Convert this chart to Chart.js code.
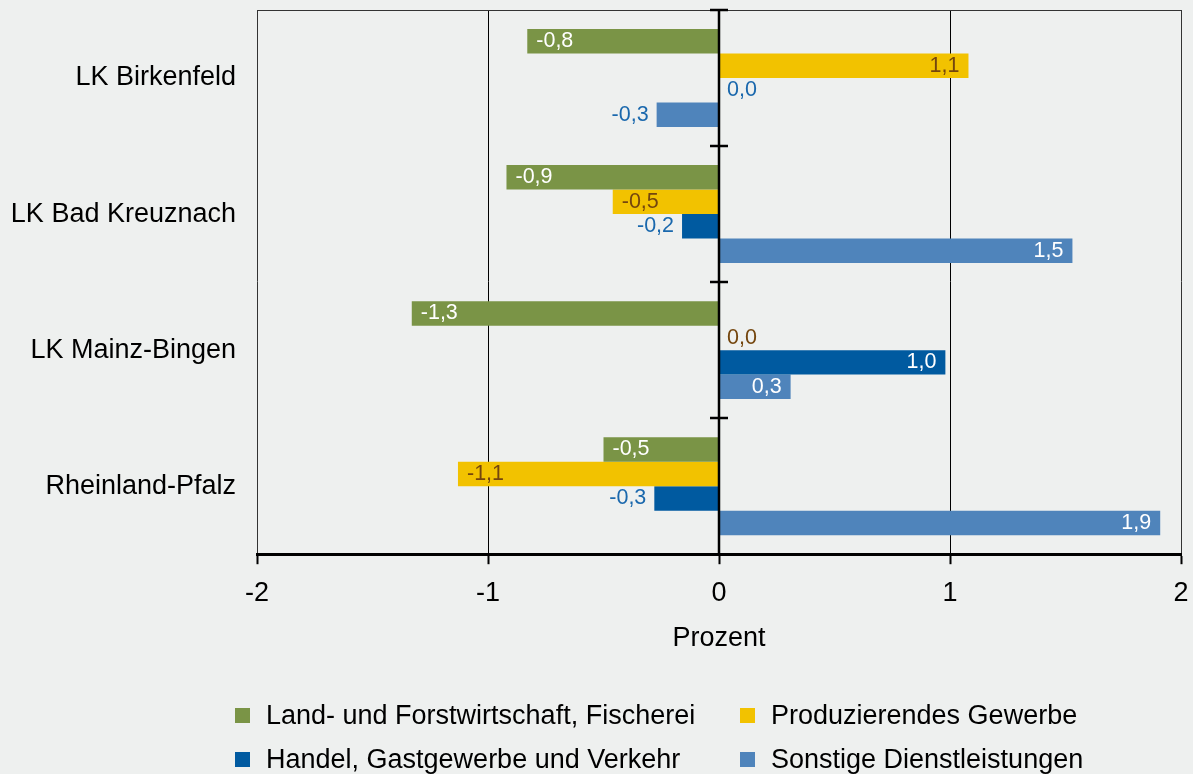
<!DOCTYPE html>
<html><head><meta charset="utf-8">
<script src="https://cdn.jsdelivr.net/npm/chart.js@4"></script>
<style>
html,body{margin:0;padding:0;background:#eef0ef;}
#wrap{position:relative;width:1193px;height:774px;overflow:hidden;}
canvas{display:block;}
.li{position:absolute;font:27px "Liberation Sans",Arial,sans-serif;color:#000;white-space:nowrap;line-height:32px;}
.li span.sq{position:absolute;left:0;top:8.5px;width:15px;height:15px;}
.li span.tx{position:absolute;left:31px;top:0;}
</style></head>
<body><div id="wrap"><canvas id="c" width="1193" height="774"></canvas><div id="legend"></div></div>
<script>
const categories = ['LK Birkenfeld','LK Bad Kreuznach','LK Mainz-Bingen','Rheinland-Pfalz'];
const seriesNames = ['Land- und Forstwirtschaft, Fischerei','Produzierendes Gewerbe','Handel, Gastgewerbe und Verkehr','Sonstige Dienstleistungen'];
const landForst    = [-0.83, -0.92, -1.33, -0.50];
const produzierend = [ 1.08, -0.46,  0.00, -1.13];
const handel       = [ 0.00, -0.16,  0.98, -0.28];
const sonstige     = [-0.27,  1.53,  0.31,  1.91];
const xTicks = [-2, -1, 0, 1, 2];

const barColors = ['#7a9446','#f2c200','#005aa0','#4f84bb'];
const insideLabelColors = ['#ffffff','#74460e','#ffffff','#ffffff'];
const outsideLabelColors = ['#7a9446','#74460e','#1a68ad','#1a68ad'];
const FONT = '"Liberation Sans", Arial, sans-serif';

const fmt = v => v.toFixed(1).replace('.', ',');

const bgPlugin = {
  id: 'bg',
  beforeDraw(chart){
    const c = chart.ctx; c.save(); c.fillStyle = '#eef0ef'; c.fillRect(0,0,chart.width,chart.height); c.restore();
  }
};

const axisPlugin = {
  id: 'axisDeco',
  afterDatasetsDraw(chart){
    const c = chart.ctx, a = chart.chartArea, xs = chart.scales.x;
    const z = xs.getPixelForValue(0);
    c.save();
    // top frame
    c.strokeStyle = '#333'; c.lineWidth = 1;
    c.beginPath(); c.moveTo(a.left, a.top + 0.5); c.lineTo(a.right, a.top + 0.5); c.stroke();
    // zero line
    c.strokeStyle = '#000'; c.lineWidth = 2.5;
    c.beginPath(); c.moveTo(z, a.top); c.lineTo(z, a.bottom); c.stroke();
    const n = categories.length, band = (a.bottom - a.top) / n;
    for (let k = 0; k < n; k++) {
      const y = Math.round(a.top + k * band);
      c.beginPath(); c.moveTo(z - 9, y); c.lineTo(z + 9, y); c.stroke();
    }
    // data labels
    c.font = '21.5px ' + FONT; c.textBaseline = 'middle';
    chart.data.datasets.forEach((ds, di) => {
      const meta = chart.getDatasetMeta(di);
      meta.data.forEach((bar, i) => {
        const v = ds.data[i];
        const txt = fmt(v);
        let tx, align, color;
        if (Math.abs(v) < 0.05) { tx = z + 8; align = 'left'; color = outsideLabelColors[di]; }
        else if (v < 0 && v > -0.4) { tx = bar.x - 8; align = 'right'; color = outsideLabelColors[di]; }
        else if (v < 0) { tx = bar.x + 9; align = 'left'; color = insideLabelColors[di]; }
        else { tx = bar.x - 9; align = 'right'; color = insideLabelColors[di]; }
        c.fillStyle = color; c.textAlign = align;
        c.fillText(txt, tx, bar.y);
      });
    });
    c.restore();
  }
};

const seriesData = [landForst, produzierend, handel, sonstige];

const chart = new Chart(document.getElementById('c'), {
  type: 'bar',
  data: {
    labels: categories,
    datasets: seriesNames.map((name, i) => ({
      label: name,
      data: seriesData[i],
      backgroundColor: barColors[i],
      borderWidth: 0,
      categoryPercentage: 0.72,
      barPercentage: 1.0
    }))
  },
  options: {
    indexAxis: 'y',
    responsive: false,
    animation: false,
    layout: { padding: { top: 10, right: 12, bottom: 115, left: 0 } },
    plugins: { legend: { display: false }, tooltip: { enabled: false } },
    scales: {
      x: {
        min: -2, max: 2,
        afterBuildTicks: s => { s.ticks = xTicks.map(v => ({ value: v })); },
        afterFit: s => { s.paddingLeft = 0; s.paddingRight = 0; },
        ticks: { font: { family: FONT, size: 27 }, color: '#000', padding: 13, callback: v => String(v).replace('.', ',') },
        grid: {
          color: ctx => (ctx.tick && ctx.tick.value === 0) ? 'rgba(0,0,0,0)' : (ctx.tick && Math.abs(ctx.tick.value) === 2 ? '#333' : '#000'),
          lineWidth: 1,
          tickColor: '#000', tickWidth: 2, tickLength: 10, drawTicks: true
        },
        border: { display: true, color: '#000', width: 3 },
        title: { display: true, text: 'Prozent', font: { family: FONT, size: 27 }, color: '#000', padding: { top: 0, bottom: 4 } }
      },
      y: {
        afterFit: s => { s.width = 257; s.paddingTop = 0; s.paddingBottom = 0; },
        ticks: { font: { family: FONT, size: 27 }, color: '#000', padding: 21 },
        grid: { display: false, drawTicks: false },
        border: { display: false }
      }
    }
  },
  plugins: [bgPlugin, axisPlugin]
});

// HTML legend built from chart datasets (two columns)
const legend = document.getElementById('legend');
const colX = [235, 740], rowY = [699, 743];
chart.data.datasets.forEach((ds, i) => {
  const d = document.createElement('div');
  d.className = 'li';
  d.style.left = colX[i % 2] + 'px';
  d.style.top = rowY[Math.floor(i / 2)] + 'px';
  d.innerHTML = '<span class="sq" style="background:' + ds.backgroundColor + '"></span><span class="tx"></span>';
  d.querySelector('.tx').textContent = ds.label;
  legend.appendChild(d);
});
</script>
</body></html>
